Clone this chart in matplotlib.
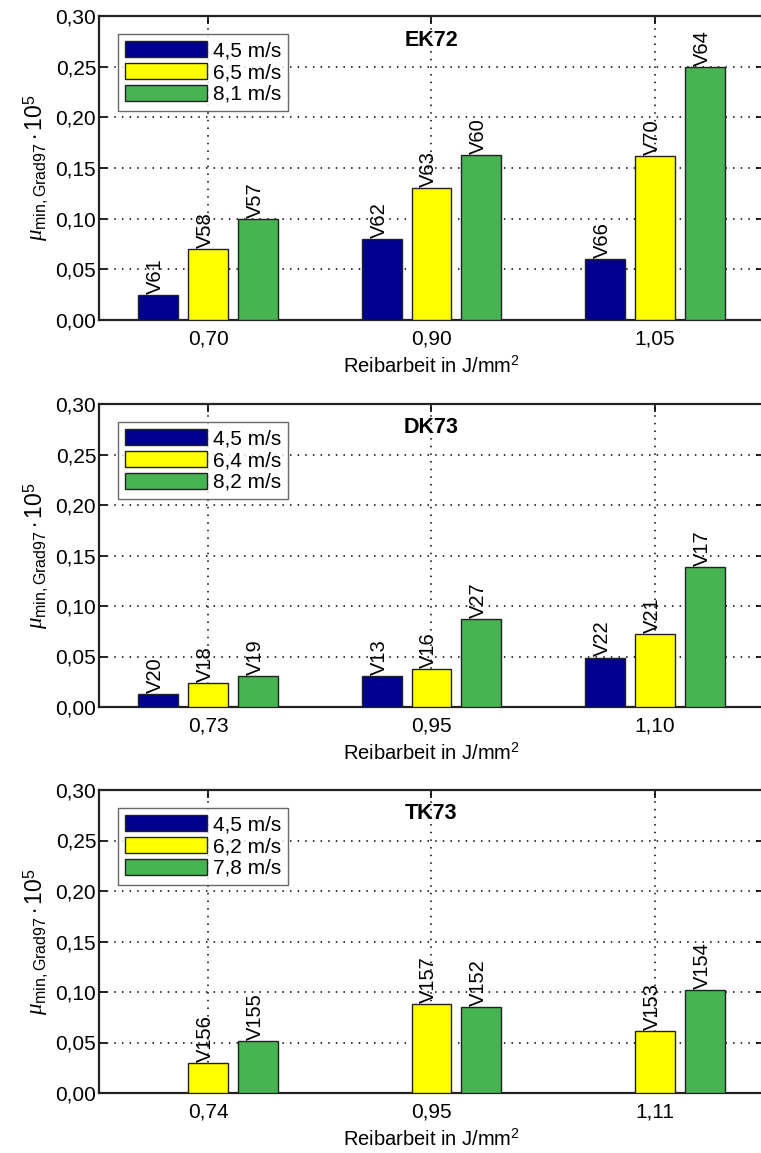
import matplotlib.pyplot as plt
from matplotlib.ticker import FuncFormatter
import numpy as np

plt.rcParams['font.family'] = ['Liberation Sans', 'DejaVu Sans']
plt.rcParams['mathtext.fontset'] = 'custom'
plt.rcParams['mathtext.rm'] = 'Liberation Sans'
plt.rcParams['mathtext.it'] = 'Liberation Serif:italic'

# --- data ---
titles = ['EK72', 'DK73', 'TK73']
xticklabels = [['0,70', '0,90', '1,05'],
               ['0,73', '0,95', '1,10'],
               ['0,74', '0,95', '1,11']]
speeds = [['4,5 m/s', '6,5 m/s', '8,1 m/s'],
          ['4,5 m/s', '6,4 m/s', '8,2 m/s'],
          ['4,5 m/s', '6,2 m/s', '7,8 m/s']]

ek72_v45 = [0.025, 0.080, 0.060]
ek72_v65 = [0.070, 0.130, 0.162]
ek72_v81 = [0.100, 0.163, 0.250]
ek72_names = [['V61', 'V62', 'V66'], ['V58', 'V63', 'V70'], ['V57', 'V60', 'V64']]

dk73_v45 = [0.013, 0.031, 0.049]
dk73_v64 = [0.024, 0.038, 0.072]
dk73_v82 = [0.031, 0.087, 0.139]
dk73_names = [['V20', 'V13', 'V22'], ['V18', 'V16', 'V21'], ['V19', 'V27', 'V17']]

tk73_v45 = [np.nan, np.nan, np.nan]
tk73_v62 = [0.030, 0.088, 0.061]
tk73_v78 = [0.051, 0.085, 0.102]
tk73_names = [['', '', ''], ['V156', 'V157', 'V153'], ['V155', 'V152', 'V154']]

panels = [([ek72_v45, ek72_v65, ek72_v81], ek72_names),
          ([dk73_v45, dk73_v64, dk73_v82], dk73_names),
          ([tk73_v45, tk73_v62, tk73_v78], tk73_names)]

colors = ['#00008F', '#FFFF00', '#46B450']

W, H = 761, 1153
fig = plt.figure(figsize=(W / 100, H / 100), dpi=100)

# axes boxes in pixels: (top, bottom)
boxes = [(16, 320), (404, 707), (790, 1093)]
left_px, right_px = 99, 764

x = np.arange(1, 4)
offset = 0.223
width = 0.178

for k, (series, names) in enumerate(panels):
    top, bot = boxes[k]
    ax = fig.add_axes([left_px / W, 1 - bot / H,
                       (right_px - left_px) / W, (bot - top) / H])
    handles = []
    for i, vals in enumerate(series):
        pos = x + (i - 1) * offset
        b = ax.bar(pos, vals, width, color=colors[i], edgecolor='#222222',
                   linewidth=1.0, zorder=3, label=speeds[k][i])
        handles.append(b)
        for px, v, nm in zip(pos, vals, names[i]):
            if nm and not np.isnan(v):
                ax.text(px - 0.012, v + 0.001, nm, rotation=90,
                        rotation_mode='anchor', ha='left', va='center',
                        fontsize=14.5, zorder=4)
    ax.set_xlim(0.512, 3.488)
    ax.set_ylim(0, 0.30)
    ax.set_xticks(x)
    ax.set_xticklabels(xticklabels[k])
    ax.set_yticks(np.arange(0, 0.31, 0.05))
    ax.yaxis.set_major_formatter(
        FuncFormatter(lambda v, p: ('%.2f' % v).replace('.', ',')))
    ax.tick_params(direction='in', top=True, right=True, length=6,
                   width=1.2, labelsize=15, pad=7)
    ax.tick_params(axis='y', pad=2)
    ax.grid(True, color='black', linestyle=(0, (1, 4)), linewidth=1.1,
            zorder=0)
    for s in ax.spines.values():
        s.set_linewidth(1.6)
        s.set_color('#222222')
    ax.set_axisbelow(True)
    ax.text(0.5, 0.921, titles[k], transform=ax.transAxes, ha='center',
            va='center', fontsize=15.5, fontweight='bold')
    ax.set_xlabel('Reibarbeit in J/mm$^2$', fontsize=14.5, labelpad=5)
    ax.set_ylabel(r'$\mu_{\mathrm{min,Grad97}}\cdot 10^5$', fontsize=16.5,
                  labelpad=3)
    leg = ax.legend(handles=handles, loc='upper left',
                    bbox_to_anchor=(19 / (right_px - left_px), 1 - 18 / (bot - top)),
                    fontsize=15, frameon=True, fancybox=False,
                    handlelength=3.9, handleheight=0.8, handletextpad=0.3,
                    labelspacing=0.12, borderpad=0.35, borderaxespad=0)
    leg.get_frame().set_edgecolor('#444444')
    leg.get_frame().set_linewidth(1.0)

fig.savefig('out.png', dpi=100)
